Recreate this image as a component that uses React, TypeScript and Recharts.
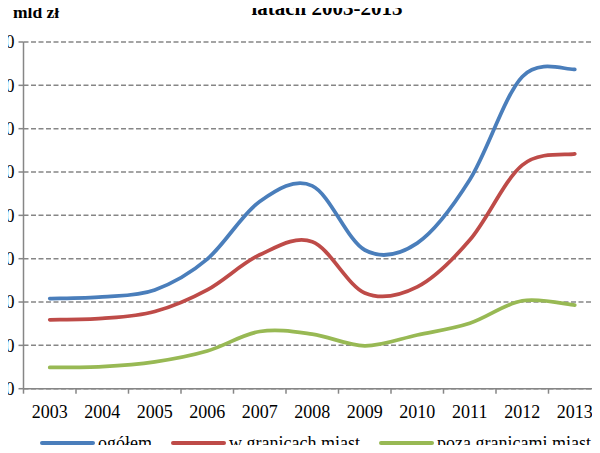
import { CartesianGrid, Line, LineChart, XAxis, YAxis } from 'recharts';

const years = ['2003', '2004', '2005', '2006', '2007', '2008', '2009', '2010', '2011', '2012', '2013'];
const ogolem = [20.8, 21.2, 22.8, 29.9, 43.2, 46.8, 32.0, 33.6, 48.2, 72.0, 73.7];
const wGranicachMiast = [15.9, 16.2, 17.8, 22.8, 30.9, 33.9, 22.1, 23.5, 34.3, 51.6, 54.2];
const pozaGranicamiMiast = [4.9, 5.1, 6.2, 8.7, 13.2, 12.6, 9.9, 12.4, 15.1, 20.3, 19.3];
const yTicks = [0, 10, 20, 30, 40, 50, 60, 70, 80];

const data = years.map((year, i) => ({
  year,
  ogolem: ogolem[i],
  wGranicach: wGranicachMiast[i],
  poza: pozaGranicamiMiast[i],
}));

const SERIES = [
  { key: 'ogolem', name: 'ogółem', color: '#4A7EBB' },
  { key: 'wGranicach', name: 'w granicach miast', color: '#BE4B48' },
  { key: 'poza', name: 'poza granicami miast', color: '#98B954' },
];

const FONT = '"Liberation Serif", "Times New Roman", serif';
const AXIS = '#868686';
const CHART_W = 610;
const CHART_H = 453;
const MARGIN = { top: 42, right: 9, bottom: 30, left: 0 };
const Y_W = 23.5;
// Excel puts categories between tick marks: one band per year.
const BAND = (CHART_W - MARGIN.right - MARGIN.left - Y_W) / years.length;

// Excel-like smoothed line: Catmull-Rom segments as cubic Béziers.
function excelSmooth(context: any) {
  let pts: [number, number][] = [];
  return {
    areaStart() {},
    areaEnd() {},
    lineStart() {
      pts = [];
    },
    point(x: number, y: number) {
      pts.push([+x, +y]);
    },
    lineEnd() {
      const n = pts.length;
      if (!n) return;
      context.moveTo(pts[0][0], pts[0][1]);
      for (let i = 0; i < n - 1; i++) {
        const p0 = pts[Math.max(i - 1, 0)];
        const p1 = pts[i];
        const p2 = pts[i + 1];
        const p3 = pts[Math.min(i + 2, n - 1)];
        context.bezierCurveTo(
          p1[0] + (p2[0] - p0[0]) / 6,
          p1[1] + (p2[1] - p0[1]) / 6,
          p2[0] - (p3[0] - p1[0]) / 6,
          p2[1] - (p3[1] - p1[1]) / 6,
          p2[0],
          p2[1],
        );
      }
    },
  };
}

function YearTick({ x, y, payload, index }: any) {
  const last = index === years.length - 1;
  return (
    <g>
      <line x1={x - BAND / 2} x2={x - BAND / 2} y1={y - 5} y2={y} stroke={AXIS} strokeWidth={1.5} />
      {last && <line x1={x + BAND / 2} x2={x + BAND / 2} y1={y - 5} y2={y} stroke={AXIS} strokeWidth={1.5} />}
      <text x={x} y={y + 24} textAnchor="middle" fontFamily={FONT} fontSize={18} fill="#000">
        {payload.value}
      </text>
    </g>
  );
}

export default function App() {
  return (
    <div style={{ position: 'relative', width: 600, height: 453, overflow: 'hidden', margin: -8, background: '#fff' }}>
      <LineChart width={CHART_W} height={CHART_H} data={data} margin={MARGIN}>
        <CartesianGrid stroke={AXIS} strokeWidth={1.5} strokeDasharray="5 2.5" vertical={false} />
        <XAxis
          dataKey="year"
          interval={0}
          height={34.3}
          padding={{ left: BAND / 2, right: BAND / 2 }}
          tickSize={5}
          tickMargin={0}
          tickLine={false}
          axisLine={{ stroke: AXIS, strokeWidth: 1.5 }}
          tick={<YearTick />}
        />
        <YAxis
          domain={[0, 80]}
          ticks={yTicks}
          interval={0}
          width={Y_W}
          tickSize={5}
          tickMargin={4}
          tickLine={{ stroke: AXIS, strokeWidth: 1.5 }}
          axisLine={{ stroke: AXIS, strokeWidth: 1.5 }}
          tick={{ fontFamily: FONT, fontSize: 18, fill: '#000' }}
        />
        {SERIES.map((s) => (
          <Line
            key={s.key}
            dataKey={s.key}
            name={s.name}
            type={excelSmooth as any}
            stroke={s.color}
            strokeWidth={3.75}
            strokeLinecap="round"
            dot={false}
            activeDot={false}
            isAnimationActive={false}
          />
        ))}
      </LineChart>
      <div
        style={{
          position: 'absolute',
          left: 13,
          top: 4.4,
          fontFamily: FONT,
          fontWeight: 'bold',
          fontSize: 17.5,
          lineHeight: '17.5px',
          whiteSpace: 'nowrap',
        }}
      >
        mld zł
      </div>
      <div
        style={{
          position: 'absolute',
          left: 327,
          top: -2,
          transform: 'translateX(-50%)',
          fontFamily: FONT,
          fontWeight: 'bold',
          fontSize: 21,
          lineHeight: '21px',
          whiteSpace: 'nowrap',
        }}
      >
        latach 2003-2013
      </div>
      <div
        style={{
          position: 'absolute',
          left: 40,
          top: 433,
          display: 'flex',
          alignItems: 'center',
          gap: 19,
          fontFamily: FONT,
          fontSize: 18,
          lineHeight: '20px',
          whiteSpace: 'nowrap',
        }}
      >
        {SERIES.map((s) => (
          <div key={s.key} style={{ display: 'flex', alignItems: 'center' }}>
            <span
              style={{ display: 'inline-block', width: 55, height: 4, borderRadius: 2, background: s.color, marginRight: 3 }}
            />
            <span>{s.name}</span>
          </div>
        ))}
      </div>
    </div>
  );
}
